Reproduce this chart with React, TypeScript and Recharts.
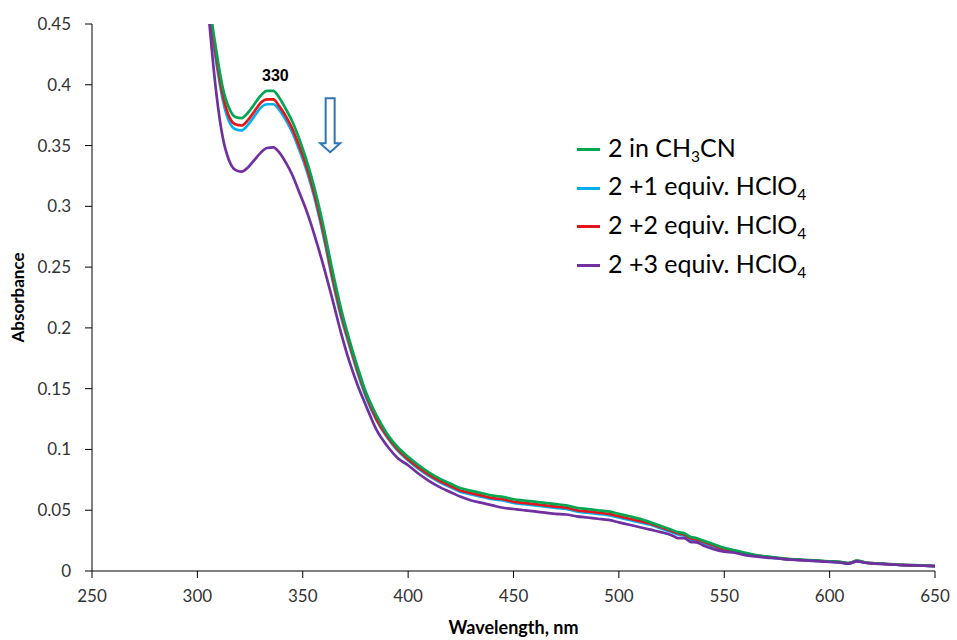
import React from 'react';
import { LineChart, Line, XAxis, YAxis, Legend, ReferenceDot } from 'recharts';

// wavelength grid (nm)
const wavelengths = [
  300, 303, 306, 309, 312, 315, 318, 321, 324, 327,
  330, 333, 336, 339, 342, 345, 348, 351, 354, 357,
  360, 364, 368, 372, 376, 380, 385, 390, 395, 400,
  405, 410, 415, 420, 425, 430, 435, 440, 445, 450,
  455, 460, 465, 470, 475, 480, 485, 490, 495, 500,
  505, 510, 515, 520, 525, 528, 531, 534, 537, 540,
  545, 550, 555, 560, 565, 570, 575, 580, 585, 590,
  595, 600, 605, 609, 613, 617, 620, 625, 630, 635,
  640, 645, 650,
];

const inCH3CN = [
  0.62, 0.53, 0.465, 0.428, 0.398, 0.381, 0.3735, 0.3725, 0.377, 0.384,
  0.391, 0.395, 0.395, 0.389, 0.38, 0.37, 0.357, 0.342, 0.325, 0.305,
  0.282, 0.248, 0.217, 0.191, 0.168, 0.147, 0.128, 0.113, 0.102, 0.094,
  0.087, 0.081, 0.076, 0.072, 0.068, 0.066, 0.064, 0.062, 0.061, 0.059,
  0.058, 0.057, 0.056, 0.055, 0.054, 0.052, 0.051, 0.05, 0.049, 0.047,
  0.045, 0.043, 0.04, 0.037, 0.034, 0.032, 0.031, 0.028, 0.027, 0.025,
  0.022, 0.019, 0.017, 0.015, 0.013, 0.012, 0.011, 0.01, 0.0095, 0.009,
  0.0085, 0.008, 0.0075, 0.0065, 0.0085, 0.007, 0.0065, 0.006, 0.0055, 0.005,
  0.0048, 0.0045, 0.004,
];

const equiv1 = [
  0.605, 0.52, 0.455, 0.418, 0.388, 0.37, 0.3635, 0.3625, 0.367, 0.374,
  0.381, 0.384, 0.384, 0.379, 0.371, 0.361, 0.348, 0.334, 0.317, 0.297,
  0.274, 0.24, 0.21, 0.186, 0.163, 0.143, 0.124, 0.11, 0.099, 0.091,
  0.084, 0.078, 0.073, 0.069, 0.065, 0.063, 0.061, 0.059, 0.058, 0.056,
  0.055, 0.054, 0.053, 0.052, 0.051, 0.049, 0.048, 0.047, 0.046, 0.044,
  0.042, 0.04, 0.038, 0.035, 0.032, 0.03, 0.029, 0.026, 0.025, 0.023,
  0.02, 0.0175, 0.016, 0.014, 0.0125, 0.0114, 0.0104, 0.0096, 0.0091, 0.0086,
  0.0081, 0.0076, 0.0071, 0.0063, 0.0082, 0.0068, 0.0063, 0.0058, 0.0053, 0.0048,
  0.0046, 0.0043, 0.004,
];

const equiv2 = [
  0.61, 0.525, 0.46, 0.422, 0.392, 0.374, 0.3675, 0.3665, 0.371, 0.378,
  0.385, 0.388, 0.388, 0.382, 0.374, 0.364, 0.351, 0.337, 0.32, 0.3,
  0.277, 0.243, 0.213, 0.188, 0.165, 0.145, 0.125, 0.111, 0.1, 0.092,
  0.085, 0.079, 0.074, 0.07, 0.066, 0.064, 0.062, 0.06, 0.059, 0.057,
  0.056, 0.055, 0.054, 0.053, 0.052, 0.05, 0.049, 0.048, 0.047, 0.045,
  0.043, 0.041, 0.039, 0.036, 0.033, 0.031, 0.03, 0.027, 0.026, 0.024,
  0.021, 0.018, 0.0165, 0.0145, 0.0128, 0.0117, 0.0107, 0.0098, 0.0093, 0.0088,
  0.0083, 0.0078, 0.0073, 0.0064, 0.0083, 0.0069, 0.0064, 0.0059, 0.0054, 0.0049,
  0.0047, 0.0044, 0.004,
];

const equiv3 = [
  0.6, 0.51, 0.445, 0.393, 0.357, 0.338, 0.33, 0.3285, 0.332, 0.338,
  0.344, 0.348, 0.3485, 0.344, 0.336, 0.326, 0.313, 0.3, 0.285, 0.268,
  0.25, 0.224, 0.197, 0.173, 0.153, 0.136, 0.116, 0.103, 0.093, 0.087,
  0.08, 0.074, 0.069, 0.065, 0.061, 0.058, 0.056, 0.054, 0.052, 0.051,
  0.05, 0.049, 0.048, 0.047, 0.0465, 0.045, 0.044, 0.043, 0.042, 0.04,
  0.038, 0.036, 0.034, 0.032, 0.0295, 0.027, 0.027, 0.024, 0.0235, 0.021,
  0.018, 0.016, 0.015, 0.013, 0.012, 0.011, 0.0105, 0.0095, 0.009, 0.0085,
  0.008, 0.0075, 0.007, 0.006, 0.008, 0.0068, 0.0062, 0.0058, 0.0053, 0.0048,
  0.0046, 0.0043, 0.004,
];

const xTicks = [250, 300, 350, 400, 450, 500, 550, 600, 650];
const yTicks = [0, 0.05, 0.1, 0.15, 0.2, 0.25, 0.3, 0.35, 0.4, 0.45];

// legend order as in the figure
const series = [
  { key: 'ch3cn', name: '2 in CH3CN', color: '#00A651' },
  { key: 'eq1', name: '2 +1 equiv. HClO4', color: '#00B0F0' },
  { key: 'eq2', name: '2 +2 equiv. HClO4', color: '#E8141B' },
  { key: 'eq3', name: '2 +3 equiv. HClO4', color: '#7030A0' },
];

const data = wavelengths.map((wl, i) => ({
  wl,
  ch3cn: inCH3CN[i],
  eq1: equiv1[i],
  eq2: equiv2[i],
  eq3: equiv3[i],
}));

const font = 'Lato, "Open Sans", sans-serif';

// digits right after a letter are drawn as subscripts
const formula = (s: string) =>
  s.split(/(?<=[A-Za-z])(\d)/).map((part, i) =>
    i % 2 === 1 ? (
      <sub key={i} style={{ fontSize: '0.62em', verticalAlign: '-0.3em' }}>{part}</sub>
    ) : (
      <span key={i}>{part}</span>
    )
  );

const renderLegend = () => (
  <div style={{ fontFamily: font }}>
    {series.map((s) => (
      <div key={s.key} style={{ display: 'flex', alignItems: 'center', height: 38.7 }}>
        <div style={{ width: 23, height: 3, background: s.color, marginRight: 8 }} />
        <span style={{ fontSize: 25, color: '#000', whiteSpace: 'nowrap', lineHeight: 1 }}>{formula(s.name)}</span>
      </div>
    ))}
  </div>
);

const DownArrow = (props: any) => {
  const { cx, cy } = props;
  const d = `M${cx - 4.5},${cy} H${cx + 4.5} V${cy + 45} H${cx + 10} L${cx},${cy + 54} L${cx - 10},${cy + 45} H${cx - 4.5} Z`;
  return <path d={d} fill="#fff" stroke="#2E75B6" strokeWidth={2} />;
};

const PeakLabel = (props: any) => (
  <text x={props.cx} y={props.cy} textAnchor="middle" dominantBaseline="central"
    fontFamily='"Liberation Sans", Arial, sans-serif' fontWeight="bold" fontSize={16} fill="#000">
    330
  </text>
);

const App: React.FC = () => {
  // draw order: blue, red, green under purple
  const drawOrder = ['eq1', 'eq2', 'ch3cn', 'eq3'];
  return (
    <div style={{ position: 'absolute', left: 0, top: 0, background: '#fff' }}>
      <LineChart width={957} height={640} data={data} margin={{ top: 24, right: 22, left: 0, bottom: 0 }}>
        <XAxis
          dataKey="wl"
          type="number"
          domain={[250, 650]}
          ticks={xTicks}
          allowDataOverflow
          stroke="#000"
          tickSize={7}
          tickMargin={12}
          height={69}
          tick={{ fontFamily: font, fontSize: 17, fill: '#333' }}
          label={{ value: 'Wavelength, nm', position: 'insideBottom', offset: 6, fontFamily: font, fontSize: 18, fontWeight: 'bold', fill: '#000' }}
        />
        <YAxis
          type="number"
          domain={[0, 0.45]}
          ticks={yTicks}
          allowDataOverflow
          stroke="#000"
          tickSize={7}
          tickMargin={14}
          width={92}
          tick={{ fontFamily: font, fontSize: 17, fill: '#333' }}
          label={{ value: 'Absorbance', angle: -90, position: 'insideLeft', offset: 18, style: { textAnchor: 'middle' }, fontFamily: font, fontSize: 17, fontWeight: 'bold', fill: '#000' }}
        />
        <Legend
          layout="vertical"
          align="center"
          verticalAlign="middle"
          content={renderLegend}
          wrapperStyle={{ left: 577, top: 130, width: 300 }}
        />
        {drawOrder.map((k) => {
          const s = series.find((x) => x.key === k)!;
          return (
            <Line key={k} type="monotone" dataKey={k} name={s.name} stroke={s.color}
              strokeWidth={2.7} dot={false} isAnimationActive={false} />
          );
        })}
        <ReferenceDot x={337} y={0.408} r={0} shape={PeakLabel} ifOverflow="visible" />
        <ReferenceDot x={363} y={0.389} r={0} shape={DownArrow} ifOverflow="visible" />
      </LineChart>
    </div>
  );
};

export default App;
